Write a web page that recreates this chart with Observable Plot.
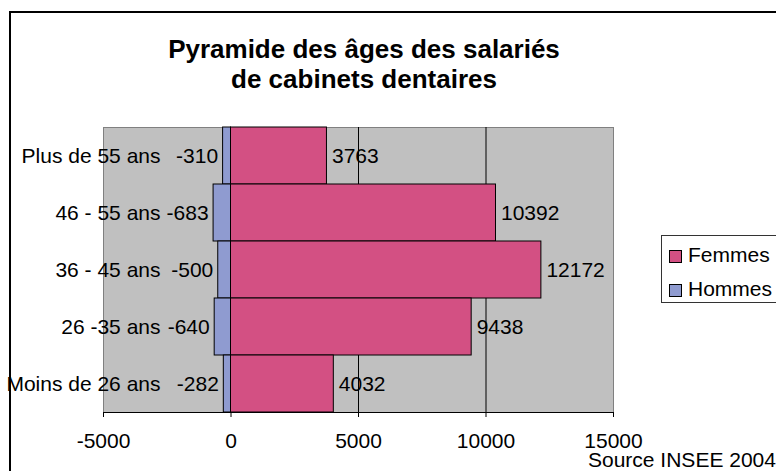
<!DOCTYPE html>
<html>
<head>
<meta charset="utf-8">
<script src="https://cdn.jsdelivr.net/npm/d3@7"></script>
<script src="https://cdn.jsdelivr.net/npm/@observablehq/plot@0.6"></script>
<style>
  html, body { margin: 0; padding: 0; background: #fff; }
  #wrap { position: relative; width: 776px; height: 471px; overflow: hidden; font-family: "Liberation Sans", Arial, sans-serif; }
  #border { position: absolute; left: 9px; top: 11px; width: 900px; height: 600px; border: 2px solid #000; box-sizing: border-box; }
  #title { position: absolute; left: 0; top: 34px; width: 728px; text-align: center; font-weight: bold; font-size: 26px; line-height: 30px; color: #000; }
  #chart { position: absolute; left: 0; top: 0; }
  #legend { position: absolute; left: 661px; top: 235px; width: 200px; height: 68px; border: 1px solid #333; box-sizing: border-box; background: #fff; }
  .item { position: absolute; left: 7px; font-size: 21px; line-height: 24px; color: #000; white-space: nowrap; }
  .sw { display: inline-block; width: 13px; height: 13px; border: 1px solid #000; box-sizing: border-box; margin-right: 6px; vertical-align: -1px; }
  #source { position: absolute; left: 588px; top: 450px; font-size: 21px; line-height: 19px; white-space: nowrap; color: #000; }
</style>
</head>
<body>
<div id="wrap">
  <div id="chart"></div>
  <div id="border"></div>
  <div id="title">Pyramide des âges des salariés<br>de cabinets dentaires</div>
  <div id="legend"></div>
  <div id="source">Source INSEE 2004</div>
</div>
<script>
const ages = ["Plus de 55 ans", "46 - 55 ans", "36 - 45 ans", "26 -35 ans", "Moins de 26 ans"];
const femmes = [3763, 10392, 12172, 9438, 4032];
const hommes = [-310, -683, -500, -640, -282];
const xTicks = [-5000, 0, 5000, 10000, 15000];
const gridLines = [5000, 10000];
const seriesNames = ["Femmes", "Hommes"];
const seriesColors = ["#d35083", "#8f9bd0"];

const data = ages.map((a, i) => ({age: a, f: femmes[i], h: hommes[i]}));

const chart = Plot.plot({
  width: 776,
  height: 471,
  marginLeft: 103,
  marginRight: 163,
  marginTop: 127,
  marginBottom: 59,
  style: {fontFamily: "'Liberation Sans', Arial, sans-serif", fontSize: "21px", color: "#000", background: "transparent"},
  x: {domain: [-5000, 15000]},
  y: {domain: ages, padding: 0},
  marks: [
    Plot.frame({fill: "#c0c0c0", stroke: "#808080"}),
    Plot.ruleX(gridLines, {stroke: "#000", strokeWidth: 1}),
    Plot.barX(data, {y: "age", x1: 0, x2: "f", fill: seriesColors[0], stroke: "#000", strokeWidth: 1}),
    Plot.barX(data, {y: "age", x1: "h", x2: 0, fill: seriesColors[1], stroke: "#000", strokeWidth: 1}),
    Plot.text(data, {x: "f", y: "age", text: d => String(d.f), textAnchor: "start", dx: 5, fill: "#000"}),
    Plot.text(data, {x: "h", y: "age", text: d => String(d.h), textAnchor: "end", dx: -5, fill: "#000"}),
    Plot.frame({anchor: "bottom", stroke: "#000"}),
    Plot.axisX({ticks: xTicks, tickSize: 5, tickPadding: 16, tickFormat: d => String(d), label: null}),
    Plot.axisY({tickSize: 0, tickPadding: -57, label: null})
  ]
});
document.getElementById("chart").appendChild(chart);

const legend = document.getElementById("legend");
seriesNames.forEach((n, i) => {
  const it = document.createElement("div");
  it.className = "item";
  it.style.top = (i === 0 ? 7 : 41) + "px";
  it.innerHTML = `<span class="sw" style="background:${seriesColors[i]}"></span>${n}`;
  legend.appendChild(it);
});
</script>
</body>
</html>
